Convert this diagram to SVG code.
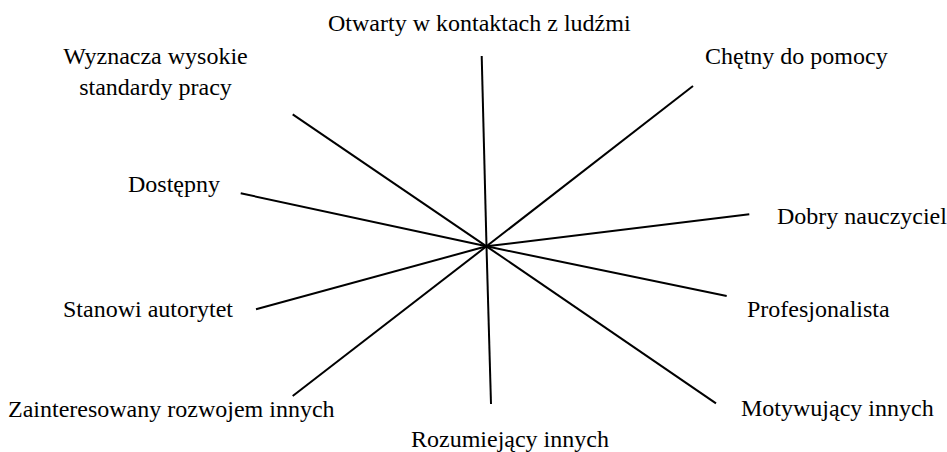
<svg xmlns="http://www.w3.org/2000/svg" width="947" height="452" viewBox="0 0 947 452">
<style>
text{font-family:'Liberation Serif',Tinos,'Times New Roman',Times,serif;font-size:24px;fill:#000}
.c line{stroke:#000;stroke-width:2;stroke-linecap:butt}
</style>
<rect width="947" height="452" fill="#fff"/>
<g id="connectors" class="c">
<line x1="486.5" y1="246.3" x2="481.7" y2="56"/>
<line x1="486.5" y1="246.3" x2="693" y2="86"/>
<line x1="486.5" y1="246.3" x2="749.3" y2="214.3"/>
<line x1="486.5" y1="246.3" x2="726.7" y2="296"/>
<line x1="486.5" y1="246.3" x2="716" y2="403.3"/>
<line x1="486.5" y1="246.3" x2="491" y2="404"/>
<line x1="486.5" y1="246.3" x2="292.7" y2="396"/>
<line x1="486.5" y1="246.3" x2="256" y2="309.3"/>
<line x1="486.5" y1="246.3" x2="240.7" y2="193.3"/>
<line x1="486.5" y1="246.3" x2="292.7" y2="114.3"/>
</g>
<g id="n-otwarty"><text font-family="Liberation Serif, serif" x="328" y="31">Otwarty w kontaktach z ludźmi</text></g>
<g id="n-wyznacza"><text font-family="Liberation Serif, serif" x="155.5" y="64" text-anchor="middle">Wyznacza wysokie</text><text font-family="Liberation Serif, serif" x="155.5" y="95" text-anchor="middle">standardy pracy</text></g>
<g id="n-chetny"><text font-family="Liberation Serif, serif" x="705" y="64">Chętny do pomocy</text></g>
<g id="n-dostepny"><text font-family="Liberation Serif, serif" x="128" y="192">Dostępny</text></g>
<g id="n-dobry"><text font-family="Liberation Serif, serif" x="777" y="224">Dobry nauczyciel</text></g>
<g id="n-stanowi"><text font-family="Liberation Serif, serif" x="63" y="317">Stanowi autorytet</text></g>
<g id="n-profesjonalista"><text font-family="Liberation Serif, serif" x="747" y="317">Profesjonalista</text></g>
<g id="n-zainteresowany"><text font-family="Liberation Serif, serif" x="8" y="417">Zainteresowany rozwojem innych</text></g>
<g id="n-motywujacy"><text font-family="Liberation Serif, serif" x="741" y="416">Motywujący innych</text></g>
<g id="n-rozumiejacy"><text font-family="Liberation Serif, serif" x="411" y="447">Rozumiejący innych</text></g>
</svg>
